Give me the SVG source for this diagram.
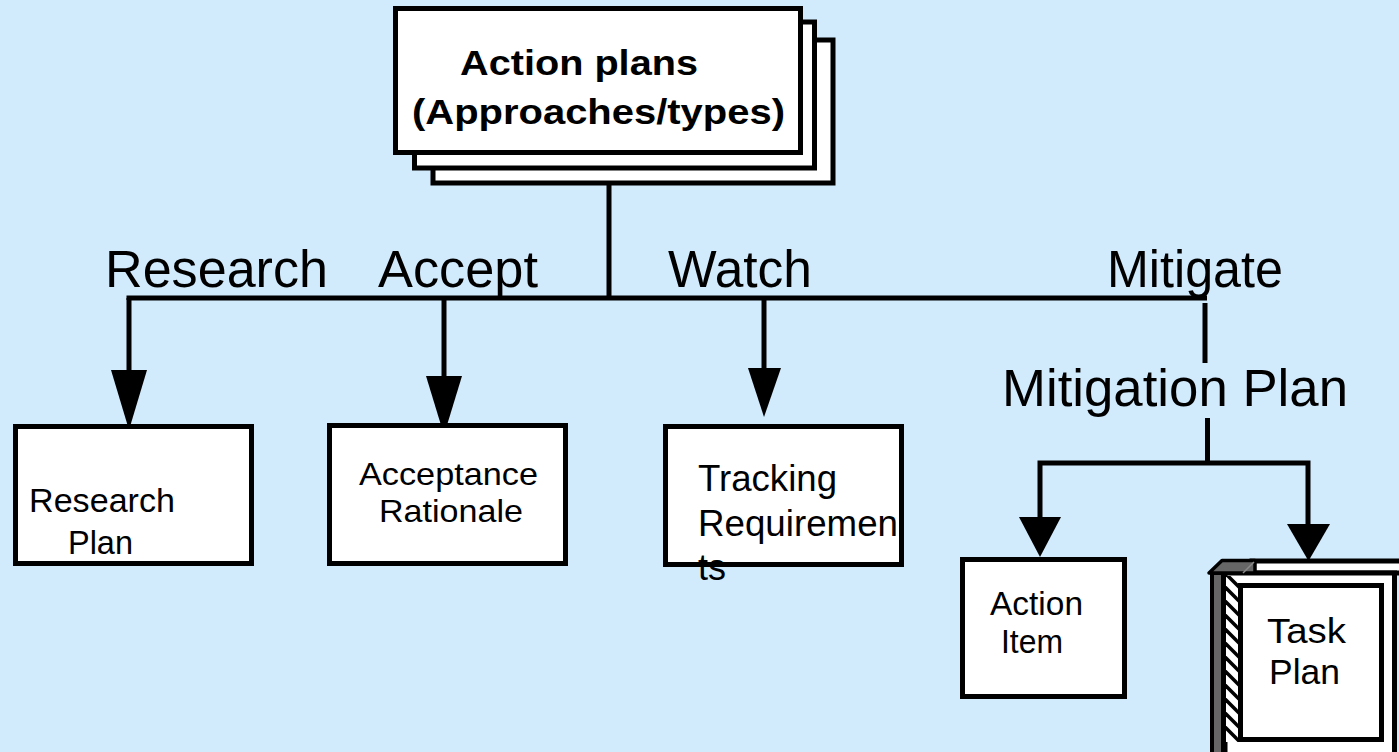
<svg xmlns="http://www.w3.org/2000/svg" width="1399" height="752" viewBox="0 0 1399 752">
  <defs>
    <style>
      .bg { fill: #D1EBFD; }
      .box { fill: #FFFFFF; stroke: #000000; stroke-width: 5; }
      .wire { fill: none; stroke: #000000; stroke-width: 5; }
      .head { fill: #000000; stroke: none; }
      .label { font-family: "Liberation Sans", Arial, sans-serif; font-size: 51px; fill: #000000; }
      .txt { font-family: "Liberation Sans", Arial, sans-serif; fill: #000000; }
      .title { font-family: "Liberation Sans", Arial, sans-serif; font-size: 35px; font-weight: bold; fill: #000000; }
      .hatch { stroke: #000000; stroke-width: 3.5; }
    </style>
    <clipPath id="hatchClip">
      <rect x="1226" y="576" width="12" height="166"/>
    </clipPath>
  </defs>

  <rect class="bg" x="0" y="0" width="1399" height="752"/>

  <!-- stacked header card -->
  <g id="node-action-plans">
    <rect class="box" x="433" y="40" width="400" height="143"/>
    <rect class="box" x="414.5" y="22" width="400" height="146"/>
    <rect class="box" x="395.5" y="8.5" width="405" height="144"/>
    <text class="title" x="460" y="75" textLength="238" lengthAdjust="spacingAndGlyphs">Action plans</text>
    <text class="title" x="412" y="124" textLength="373" lengthAdjust="spacingAndGlyphs">(Approaches/types)</text>
  </g>

  <!-- connectors -->
  <g id="connectors">
    <path class="wire" d="M609 183 V298"/>
    <path class="wire" d="M129 300 V298 H1207"/>
    <path class="wire" d="M129 298 V372"/>
    <path class="wire" d="M444 298 V378"/>
    <path class="wire" d="M764 298 V370"/>
    <path class="wire" d="M1205 303 V363"/>
    <path class="wire" d="M1207.5 418 V463"/>
    <path class="wire" d="M1040 519 V463 H1308 V526"/>
    <polygon class="head" points="111,370 147,370 129,430"/>
    <polygon class="head" points="426,376 462,376 444,435"/>
    <polygon class="head" points="748,368 781,368 764,417"/>
    <polygon class="head" points="1019,517 1061,517 1040,557"/>
    <polygon class="head" points="1287,524 1330,524 1308.5,561"/>
  </g>

  <!-- branch labels -->
  <g id="branch-labels">
    <text class="label" x="105" y="287" textLength="223" lengthAdjust="spacingAndGlyphs">Research</text>
    <text class="label" x="378" y="287" textLength="160" lengthAdjust="spacingAndGlyphs">Accept</text>
    <text class="label" x="668" y="287" textLength="144" lengthAdjust="spacingAndGlyphs">Watch</text>
    <text class="label" x="1107" y="287" textLength="176" lengthAdjust="spacingAndGlyphs">Mitigate</text>
    <text class="label" x="1002" y="406" textLength="346" lengthAdjust="spacingAndGlyphs">Mitigation Plan</text>
  </g>

  <g id="node-research-plan">
    <rect class="box" x="15.5" y="426.5" width="236" height="137"/>
    <text class="txt" font-size="34" x="29" y="512" textLength="146" lengthAdjust="spacingAndGlyphs">Research</text>
    <text class="txt" font-size="34" x="68" y="554" textLength="65" lengthAdjust="spacingAndGlyphs">Plan</text>
  </g>

  <g id="node-acceptance-rationale">
    <rect class="box" x="329.5" y="425.5" width="236" height="138"/>
    <text class="txt" font-size="32" x="359" y="485" textLength="179" lengthAdjust="spacingAndGlyphs">Acceptance</text>
    <text class="txt" font-size="32" x="379" y="522" textLength="144" lengthAdjust="spacingAndGlyphs">Rationale</text>
  </g>

  <g id="node-tracking-requirements">
    <rect class="box" x="665.5" y="426.5" width="236" height="138"/>
    <text class="txt" font-size="36" x="698" y="491" textLength="139" lengthAdjust="spacingAndGlyphs">Tracking</text>
    <text class="txt" font-size="36" x="698" y="536" textLength="200" lengthAdjust="spacingAndGlyphs">Requiremen</text>
    <text class="txt" font-size="36" x="698" y="580">ts</text>
  </g>

  <g id="node-action-item">
    <rect class="box" x="962.5" y="559.5" width="162" height="137"/>
    <text class="txt" font-size="33" x="990" y="615" textLength="93" lengthAdjust="spacingAndGlyphs">Action</text>
    <text class="txt" font-size="33" x="1001" y="653" textLength="62" lengthAdjust="spacingAndGlyphs">Item</text>
  </g>

  <!-- binder icon -->
  <g id="node-task-plan">
    <rect class="box" x="1252" y="561" width="170" height="12"/>
    <rect class="box" x="1225" y="573" width="169.5" height="200"/>
    <rect x="1212" y="573" width="11" height="190" fill="#666666" stroke="#000000" stroke-width="4"/>
    <polygon points="1209,573 1222,560.5 1255,560.5 1255,573" fill="#666666" stroke="#000000" stroke-width="3.5" stroke-linejoin="round"/>
    <line x1="1243" y1="573" x2="1254" y2="562" stroke="#8a8a8a" stroke-width="1.5"/>
    <rect x="1226" y="576" width="12" height="166" fill="#FFFFFF"/>
    <g clip-path="url(#hatchClip)">
      <line class="hatch" x1="1224" y1="572" x2="1240" y2="588"/>
      <line class="hatch" x1="1224" y1="586" x2="1240" y2="602"/>
      <line class="hatch" x1="1224" y1="600" x2="1240" y2="616"/>
      <line class="hatch" x1="1224" y1="614" x2="1240" y2="630"/>
      <line class="hatch" x1="1224" y1="628" x2="1240" y2="644"/>
      <line class="hatch" x1="1224" y1="642" x2="1240" y2="658"/>
      <line class="hatch" x1="1224" y1="656" x2="1240" y2="672"/>
      <line class="hatch" x1="1224" y1="670" x2="1240" y2="686"/>
      <line class="hatch" x1="1224" y1="684" x2="1240" y2="700"/>
      <line class="hatch" x1="1224" y1="698" x2="1240" y2="714"/>
      <line class="hatch" x1="1224" y1="712" x2="1240" y2="728"/>
      <line class="hatch" x1="1224" y1="726" x2="1240" y2="742"/>
    </g>
    <g fill="#000000">
      <circle cx="1223" cy="600" r="2"/>
      <circle cx="1223" cy="619" r="2"/>
      <circle cx="1223" cy="639" r="2"/>
      <circle cx="1223" cy="663" r="2"/>
      <circle cx="1223" cy="683" r="2"/>
      <circle cx="1223" cy="703" r="2"/>
      <circle cx="1223" cy="725" r="2"/>
    </g>
    <rect class="box" x="1240.5" y="585.5" width="141" height="154"/>
    <text class="txt" font-size="35" x="1267" y="643" textLength="79" lengthAdjust="spacingAndGlyphs">Task</text>
    <text class="txt" font-size="35" x="1269" y="684" textLength="71" lengthAdjust="spacingAndGlyphs">Plan</text>
  </g>
</svg>
